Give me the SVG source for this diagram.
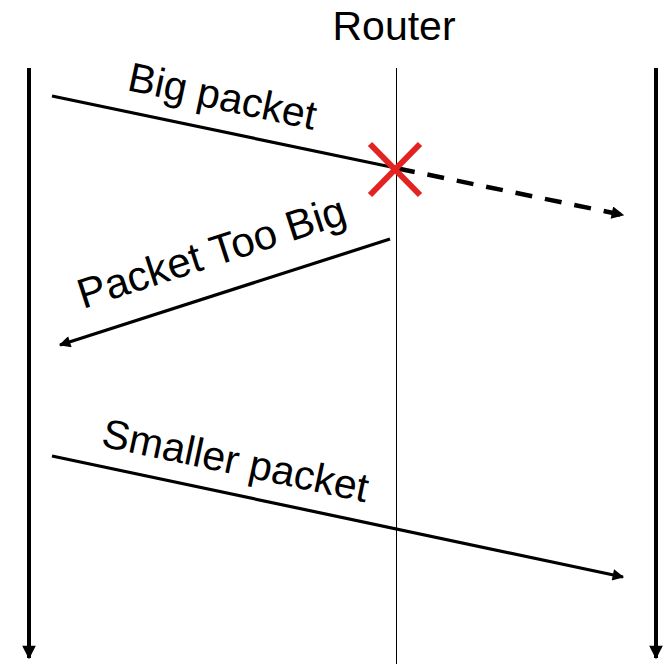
<svg xmlns="http://www.w3.org/2000/svg" width="665" height="664" viewBox="0 0 665 664">
  <defs>
    <style>
      .lbl { font-family: "Liberation Sans", Arial, sans-serif; font-size: 41px; fill: #000; }
      .timeline { stroke: #000; stroke-width: 4; fill: none; }
      .msg { stroke: #000; stroke-width: 3.2; fill: none; }
      .dash { stroke: #000; stroke-width: 4.5; fill: none; stroke-dasharray: 17 13; }
    </style>
    <marker id="ah" viewBox="0 0 10 10" refX="9" refY="5" markerWidth="4.5" markerHeight="3.6" markerUnits="strokeWidth" orient="auto">
      <path d="M0,0 L10,5 L0,10 Z" fill="#000"/>
    </marker>
    <marker id="ahD" viewBox="0 0 10 10" refX="9" refY="5" markerWidth="3.4" markerHeight="2.8" markerUnits="strokeWidth" orient="auto">
      <path d="M0,0 L10,5 L0,10 Z" fill="#000"/>
    </marker>
    <marker id="ahT" viewBox="0 0 10 10" refX="9" refY="5" markerWidth="4.5" markerHeight="3.4" markerUnits="strokeWidth" orient="auto">
      <path d="M0,0 L10,5 L0,10 Z" fill="#000"/>
    </marker>
  </defs>
  <rect width="665" height="664" fill="#fff"/>

  <g id="host-left">
    <line class="timeline" x1="29" y1="68" x2="29" y2="658" marker-end="url(#ahT)"/>
  </g>
  <g id="host-right">
    <line class="timeline" x1="656" y1="68" x2="656" y2="658" marker-end="url(#ahT)"/>
  </g>
  <g id="router">
    <text class="lbl" x="394" y="40" text-anchor="middle">Router</text>
    <line x1="396.5" y1="68" x2="396.5" y2="664" stroke="#000" stroke-width="1"/>
  </g>

  <g id="connectors">
    <line class="msg" x1="52" y1="96" x2="396" y2="168"/>
    <line class="dash" x1="398" y1="168.5" x2="623" y2="215" marker-end="url(#ahD)"/>
    <line class="msg" x1="390" y1="239" x2="60" y2="345" marker-end="url(#ah)"/>
    <line class="msg" x1="52" y1="456" x2="623" y2="577" marker-end="url(#ah)"/>
  </g>

  <g id="drop">
    <line x1="370" y1="144" x2="420" y2="195" stroke="#e32222" stroke-width="6"/>
    <line x1="420" y1="144" x2="370" y2="195" stroke="#e32222" stroke-width="6"/>
  </g>

  <g id="labels">
    <text class="lbl" transform="translate(126,90) rotate(12)">Big packet</text>
    <text class="lbl" transform="translate(83,309) rotate(-18)" style="font-size:42px">Packet Too Big</text>
    <text class="lbl" transform="translate(100,446) rotate(12)">Smaller packet</text>
  </g>
</svg>
